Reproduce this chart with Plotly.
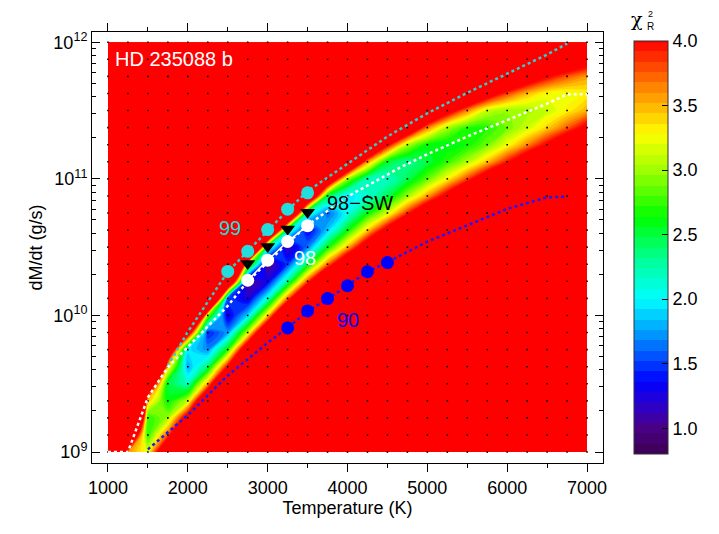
import plotly.graph_objects as go

# ---------------- data ----------------
T_GRID = [1000, 1250, 1500, 1750, 2000, 2250, 2500, 2750, 3000, 3250, 3500, 3750, 4000,
          4250, 4500, 4750, 5000, 5250, 5500, 5750, 6000, 6250, 6500, 6750, 7000]
LOGMDOT_GRID = [9.0, 9.125, 9.25, 9.375, 9.5, 9.625, 9.75, 9.875, 10.0, 10.125, 10.25,
                10.375, 10.5, 10.625, 10.75, 10.875, 11.0, 11.125, 11.25, 11.375, 11.5,
                11.625, 11.75, 11.875, 12.0]
CHI2_OFFSCALE = 9.0  # chi2 above the colour range (drawn red)
# temperature column index -> (first log(dM/dt) row index, reduced chi2 values going up)
CHI2_COLUMNS = {
    1: (0, [3.6, 5.3]),
    2: (0, [3.2, 2.7, 2.7, 3.5, 4.9]),
    3: (0, [5.0, 3.8, 3.0, 2.6, 2.5, 3.4, 5.0]),
    4: (1, [6.0, 4.35, 3.1, 2.2, 1.77, 1.96, 4.5]),
    5: (2, [7.1, 5.1, 3.55, 2.4, 1.7, 1.41, 2.94, 7.4]),
    6: (3, [8.1, 5.9, 4.06, 2.68, 1.74, 1.24, 1.55, 5.6]),
    7: (5, [6.8, 4.7, 3.1, 1.9, 1.23, 1.0, 3.1, 7.6]),
    8: (6, [7.3, 5.1, 3.4, 2.1, 1.3, 0.96, 2.3, 6.55]),
    9: (7, [7.8, 5.5, 3.7, 2.3, 1.5, 1.11, 2.3, 6.2]),
    10: (8, [7.8, 5.5, 3.8, 2.5, 1.65, 1.31, 2.2, 5.4]),
    11: (9, [7.4, 5.3, 3.7, 2.6, 1.86, 1.6, 2.5, 5.0]),
    12: (10, [6.5, 4.8, 3.5, 2.6, 2.05, 1.91, 3.0, 5.5]),
    13: (11, [5.9, 4.5, 3.4, 2.6, 2.15, 2.2, 3.6, 5.6]),
    14: (12, [5.75, 4.25, 3.15, 2.46, 2.16, 2.53, 4.1]),
    15: (13, [5.2, 3.9, 2.99, 2.45, 2.31, 3.05, 4.75]),
    16: (13, [6.0, 4.66, 3.56, 2.84, 2.49, 2.61, 3.67, 5.3]),
    17: (14, [5.5, 4.2, 3.29, 2.74, 2.55, 3.02, 4.3]),
    18: (15, [5.0, 3.83, 3.04, 2.65, 2.72, 3.64, 5.1]),
    19: (15, [5.8, 4.44, 3.46, 2.88, 2.7, 3.12, 4.35]),
    20: (16, [5.06, 3.96, 3.24, 2.89, 2.98, 3.84, 5.2]),
    21: (16, [5.8, 4.5, 3.63, 3.13, 3.0, 3.48, 4.48]),
    22: (17, [5.1, 4.07, 3.41, 3.12, 3.26, 4.06]),
    23: (18, [4.57, 3.75, 3.3, 3.23, 3.77, 4.73]),
    24: (18, [5.3, 4.17, 3.51, 3.3, 3.57, 4.34]),
}

# model tracks (dotted)
CYAN_TRACK_T = [1750, 2000, 2250, 2500, 2750, 3000, 3250, 3500, 4000, 4500, 5000, 5500, 6000, 6500, 6750]
CYAN_TRACK_LOGM = [9.63, 9.88, 10.10, 10.32, 10.47, 10.62, 10.77, 10.91, 11.11, 11.31, 11.48, 11.63, 11.77, 11.91, 11.99]
WHITE_TRACK_T = [1000, 1250, 1500, 1750, 2000, 2250, 2500, 2750, 3000, 3250, 3500, 4000, 4650, 5000, 5500, 6000, 6500, 6750, 7000]
WHITE_TRACK_LOGM = [9.0, 9.0, 9.40, 9.62, 9.77, 9.92, 10.07, 10.25, 10.39, 10.53, 10.66, 10.87, 11.08, 11.18, 11.31, 11.43, 11.55, 11.62, 11.62]
BLUE_TRACK_T = [1500, 2000, 2500, 3000, 3250, 3500, 3750, 4000, 4250, 4500, 5000, 5500, 6000, 6500, 6750]
BLUE_TRACK_LOGM = [9.02, 9.27, 9.56, 9.80, 9.91, 10.03, 10.12, 10.22, 10.32, 10.39, 10.54, 10.66, 10.78, 10.865, 10.87]

# best-fit points
P99_T = [2500, 2750, 3000, 3250, 3500]
P99_MDOT = [2.1e10, 2.95e10, 4.25e10, 6.0e10, 7.9e10]
P98_T = [2750, 3000, 3250, 3500]
P98_MDOT = [1.81e10, 2.54e10, 3.48e10, 4.54e10]
P98SW_T = [2750, 3000, 3250, 3500]
P98SW_MDOT = [2.4e10, 3.2e10, 4.3e10, 5.7e10]
P90_T = [3250, 3500, 3750, 4000, 4250, 4500]
P90_MDOT = [8.1e9, 1.08e10, 1.33e10, 1.65e10, 2.09e10, 2.44e10]

X_TICKS = [1000, 2000, 3000, 4000, 5000, 6000, 7000]
Y_TICKS = [1e9, 1e10, 1e11, 1e12]
Y_TICK_TEXT = ["10<sup>9</sup>", "10<sup>10</sup>", "10<sup>11</sup>", "10<sup>12</sup>"]
CB_TICKS = [1.0, 1.5, 2.0, 2.5, 3.0, 3.5, 4.0]

# ---------------- build the chi2 table ----------------
z = [[CHI2_OFFSCALE for _ in T_GRID] for _ in LOGMDOT_GRID]
for j, (k0, vals) in CHI2_COLUMNS.items():
    for i, v in enumerate(vals):
        z[k0 + i][j] = v
mdot_grid = [10 ** v for v in LOGMDOT_GRID]

colorscale = [
    [0.0, "#3c0050"], [0.0625, "#4a0085"], [0.11, "#3000c4"], [0.175, "#0000ff"],
    [0.275, "#0085ff"], [0.375, "#00ffff"], [0.47, "#00ff98"], [0.572, "#00ff00"],
    [0.6875, "#a0ff00"], [0.775, "#ffff00"], [0.87, "#ff9800"], [1.0, "#ff0000"],
]

FONT = "Liberation Sans, Arial, Helvetica, sans-serif"
# the page body adds an 8 px offset; figure is sized so the plot lands where the reference has it
OFF = 8
W, H = 719 - OFF, 534 - OFF
L, T = 92 - OFF, 32 - OFF
R, B = W - (603 - OFF), H - (463 - OFF)
PW, PH = W - L - R, H - T - B

fig = go.Figure()
fig.add_trace(go.Contour(
    x=T_GRID, y=mdot_grid, z=z,
    colorscale=colorscale, zmin=0.8, zmax=4.0, zauto=False,
    autocontour=False,
    contours=dict(start=0.8, end=4.0, size=0.08, coloring="fill", showlines=False),
    line=dict(width=0),
    colorbar=dict(
        x=(624 - OFF - L) / PW, xanchor="left", xref="paper",
        y=1 - (247.5 - OFF - T) / PH, yanchor="middle", len=433, lenmode="pixels",
        thickness=34, thicknessmode="pixels",
        outlinecolor="#333333", outlinewidth=1,
        tickvals=CB_TICKS, ticktext=[f"{v:.1f}" for v in CB_TICKS],
        ticks="inside", ticklen=6, tickcolor="black",
        tickfont=dict(size=18, color="black", family=FONT),
    ),
    hoverinfo="skip",
))

# model grid points
fig.add_trace(go.Scatter(
    x=[t for t in T_GRID for _ in LOGMDOT_GRID],
    y=[m for _ in T_GRID for m in mdot_grid],
    mode="markers", marker=dict(symbol="square", size=1.6, color="black"),
    hoverinfo="skip", showlegend=False,
))

def dotted(xs, ys, color):
    fig.add_trace(go.Scatter(x=xs, y=[10 ** v for v in ys], mode="lines",
                             line=dict(color=color, width=2.5, dash="dot"),
                             hoverinfo="skip", showlegend=False))

dotted(CYAN_TRACK_T, CYAN_TRACK_LOGM, "#33cccc")
dotted(WHITE_TRACK_T, WHITE_TRACK_LOGM, "white")
dotted(BLUE_TRACK_T, BLUE_TRACK_LOGM, "#1a1aff")

fig.add_trace(go.Scatter(x=P98_T, y=P98_MDOT, mode="lines",
                         line=dict(color="white", width=1.5), showlegend=False, hoverinfo="skip"))
fig.add_trace(go.Scatter(x=P99_T, y=P99_MDOT, mode="markers",
                         marker=dict(symbol="circle", size=13, color="#22dddd"), showlegend=False))
fig.add_trace(go.Scatter(x=P98SW_T, y=P98SW_MDOT, mode="markers",
                         marker=dict(symbol="triangle-down", size=13, color="black"), showlegend=False))
fig.add_trace(go.Scatter(x=P98_T, y=P98_MDOT, mode="markers",
                         marker=dict(symbol="circle", size=13, color="white"), showlegend=False))
fig.add_trace(go.Scatter(x=P90_T, y=P90_MDOT, mode="markers",
                         marker=dict(symbol="circle", size=13, color="#0000ff"), showlegend=False))

def label(text, x, y, color, anchor="center"):
    fig.add_annotation(x=x, y=y, text=text, showarrow=False, xanchor=anchor,
                       font=dict(size=20, color=color, family=FONT))

label("99", 2529, 10.642, "#22dddd")
label("98", 3469, 10.422, "white")
label("98\u2212SW", 4158, 10.826, "black")
label("90", 4008, 9.967, "#0000ff")
label("HD 235088 b", 1063, 11.876, "white", anchor="left")

def px_ann(text, px, py, size, yanchor="middle", family=FONT):
    fig.add_annotation(x=(px - OFF - L) / PW, y=1 - (py - OFF - T) / PH, xref="paper", yref="paper",
                       text=text, showarrow=False, xanchor="center", yanchor=yanchor,
                       borderpad=0, font=dict(size=size, color="black", family=family))

px_ann("\u03c7", 637, 31, 19, "bottom", "DejaVu Serif, serif")
px_ann("2", 650, 8, 9, "top")
px_ann("R", 650, 33, 10, "bottom")

fig.update_layout(
    width=W, height=H,
    margin=dict(l=L, r=R, t=T, b=B, autoexpand=False),
    paper_bgcolor="white", plot_bgcolor="white",
    font=dict(family=FONT, color="black", size=18),
    showlegend=False,
    xaxis=dict(
        range=[800, 7200], tickvals=X_TICKS, ticks="outside", ticklen=8, tickcolor="black",
        minor=dict(dtick=500, tick0=0, ticks="outside", ticklen=4, tickcolor="black", showgrid=False),
        showline=True, linecolor="black", linewidth=1, mirror="ticks",
        showgrid=False, zeroline=False, automargin=False,
        title=dict(text="Temperature (K)", standoff=4, font=dict(size=18)),
        tickfont=dict(size=18),
    ),
    yaxis=dict(
        type="log", range=[8.92, 12.075], tickvals=Y_TICKS, ticktext=Y_TICK_TEXT,
        ticks="inside", ticklen=8, tickcolor="black",
        minor=dict(tickvals=[m * 10 ** e for e in (9, 10, 11) for m in range(2, 10)],
                   ticks="inside", ticklen=4, tickcolor="black", showgrid=False),
        showline=True, linecolor="black", linewidth=1, mirror="ticks",
        showgrid=False, zeroline=False, automargin=False,
        title=dict(text="dM/dt (g/s)", standoff=6, font=dict(size=18)),
        tickfont=dict(size=18),
    ),
)

fig.write_html("out.html")
